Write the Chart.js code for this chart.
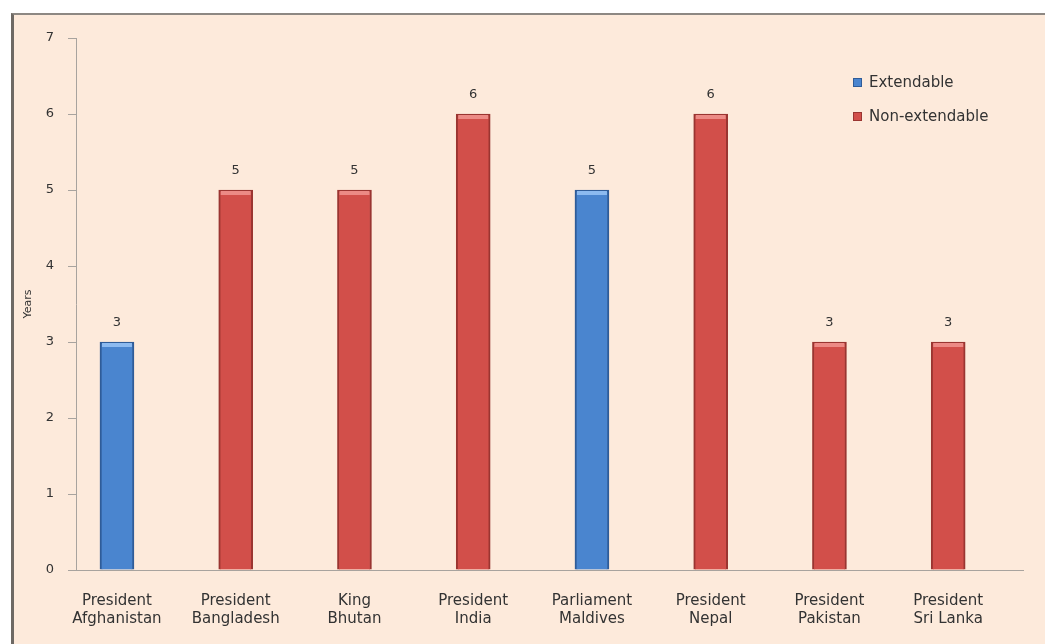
<!DOCTYPE html>
<html>
<head>
<meta charset="utf-8">
<script src="https://cdn.jsdelivr.net/npm/chart.js@4"></script>
<style>
html, body { margin: 0; padding: 0; background: #fff; }
#frame {
  position: absolute; left: 11px; top: 13px; width: 1040px; height: 640px;
  background: #fdeadb;
  border-top: 2px solid #8d8883;
  border-left: 3px solid #6e6964;
}
#wrap { position: absolute; left: 0; top: 0; width: 1045px; height: 644px; }
</style>
</head>
<body>
<div id="frame"></div>
<div id="wrap"><canvas id="chart"></canvas></div>
<script>
const categories = [
  'President Afghanistan', 'President Bangladesh', 'King Bhutan', 'President India',
  'Parliament Maldives', 'President Nepal', 'President Pakistan', 'President Sri Lanka'
];
const years = [3, 5, 5, 6, 5, 6, 3, 3];
const extendable = [true, false, false, false, true, false, false, false];
const seriesNames = ['Extendable', 'Non-extendable'];
const yMin = 0;
const yMax = 7;

const FONT = 'DejaVu Sans';
const TEXT = '#333333';

// split "President Sri Lanka" -> ["President", "Sri Lanka"]
function twoLines(name) {
  const i = name.indexOf(' ');
  return [name.slice(0, i), name.slice(i + 1)];
}

const points = years.map((v, i) => ({ x: i, y: v }));

// light cap on each bar + the number above it
const barValues = {
  id: 'barValues',
  afterDatasetsDraw(chart) {
    const ctx = chart.ctx;
    ctx.save();
    chart.data.datasets.forEach((ds, di) => {
      chart.getDatasetMeta(di).data.forEach((bar, j) => {
        ctx.fillStyle = ds.capColor;
        ctx.fillRect(bar.x - bar.width / 2 + 2, bar.y + 1, bar.width - 4, 4);
        ctx.font = '13px ' + FONT;
        ctx.fillStyle = TEXT;
        ctx.textAlign = 'center';
        ctx.textBaseline = 'middle';
        ctx.fillText(ds.data[j].y, bar.x, bar.y - 19);
      });
    });
    ctx.restore();
  }
};

// legend box sits inside the plot, top right
const cornerLegend = {
  id: 'cornerLegend',
  afterDraw(chart) {
    const ctx = chart.ctx;
    const area = chart.chartArea;
    const x = area.right - 170;
    let y = area.top + 45;
    ctx.save();
    ctx.font = '15px ' + FONT;
    ctx.textBaseline = 'middle';
    chart.data.datasets.forEach(ds => {
      ctx.fillStyle = ds.backgroundColor;
      ctx.fillRect(x, y - 5, 9, 9);
      ctx.strokeStyle = ds.borderColor;
      ctx.lineWidth = 1;
      ctx.strokeRect(x + 0.5, y - 4.5, 8, 8);
      ctx.fillStyle = TEXT;
      ctx.fillText(ds.label, x + 16, y);
      y += 34;
    });
    ctx.restore();
  }
};

new Chart(document.getElementById('chart'), {
  type: 'bar',
  data: {
    datasets: [{
      label: seriesNames[0],
      data: points.filter((p, i) => extendable[i]),
      backgroundColor: '#4a85cf',
      borderColor: '#2f5c98',
      capColor: '#8cbaf0',
      borderWidth: 2
    }, {
      label: seriesNames[1],
      data: points.filter((p, i) => !extendable[i]),
      backgroundColor: '#d24f4a',
      borderColor: '#9a3531',
      capColor: '#ec8a85',
      borderWidth: 2
    }]
  },
  options: {
    responsive: true,
    maintainAspectRatio: false,
    animation: false,
    devicePixelRatio: 1,
    datasets: {
      bar: { grouped: false, barThickness: 34 }
    },
    layout: { padding: { left: 14, top: 38, right: 22, bottom: 0 } },
    plugins: {
      legend: { display: false },
      tooltip: { enabled: false }
    },
    scales: {
      x: {
        type: 'linear',
        offset: false,
        min: -0.345,
        max: 7.63,
        afterBuildTicks: scale => {
          scale.ticks = categories.map((c, i) => ({ value: i }));
        },
        afterFit: scale => { scale.height = 74; },
        grid: { display: false, drawTicks: false, offset: false },
        border: { color: '#a8a39e', width: 1 },
        ticks: {
          autoSkip: false,
          maxRotation: 0,
          padding: 22,
          color: TEXT,
          font: { family: FONT, size: 15, lineHeight: 1.2 },
          callback: value => twoLines(categories[value])
        }
      },
      y: {
        min: yMin,
        max: yMax,
        afterFit: scale => { scale.width = 62; },
        grid: { drawOnChartArea: false, drawTicks: true, tickLength: 8, color: '#a8a39e' },
        border: { color: '#a8a39e', width: 1 },
        ticks: {
          stepSize: 1,
          padding: 14,
          color: TEXT,
          font: { family: FONT, size: 13 }
        },
        title: {
          display: true,
          text: 'Years',
          color: TEXT,
          font: { family: FONT, size: 11 },
          padding: { top: 8, bottom: 0 }
        }
      }
    }
  },
  plugins: [barValues, cornerLegend]
});
</script>
</body>
</html>
